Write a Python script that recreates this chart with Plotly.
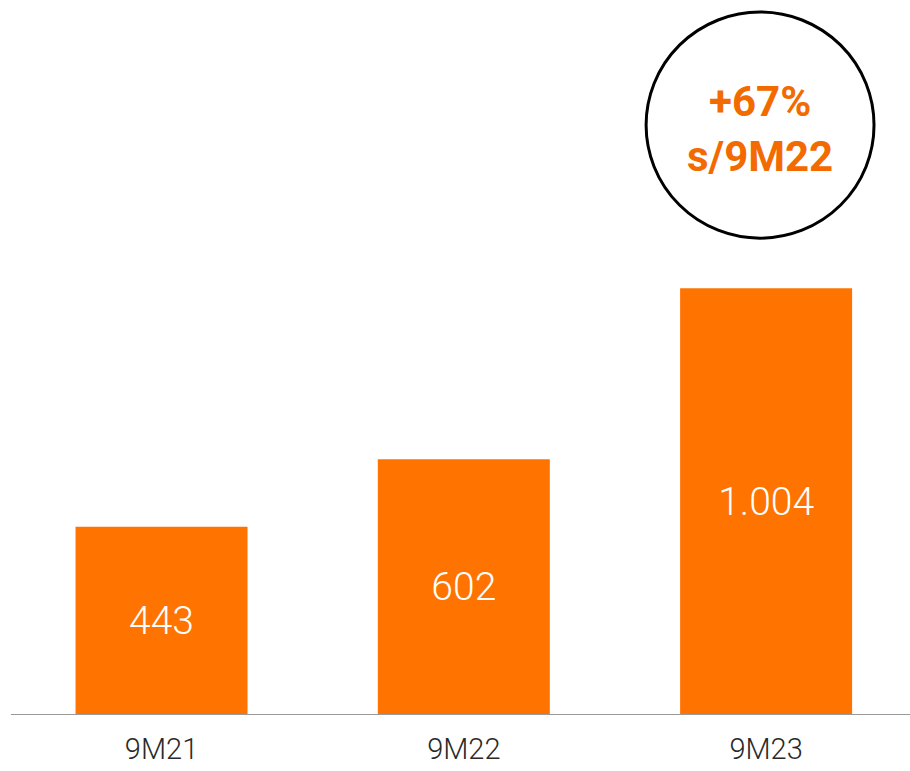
import plotly.graph_objects as go

categories = ["9M21", "9M22", "9M23"]
values = [443, 602, 1004]
value_labels = ["443", "602", "1.004"]
badge_lines = ["+67%", "s/9M22"]

BAR = "#FF7300"
TXT_ORANGE = "#F26A00"

fig = go.Figure()
fig.add_trace(go.Bar(
    x=[0, 1, 2], y=values, width=0.569,
    marker=dict(color=BAR, line=dict(width=0)),
    text=value_labels, textposition="inside", insidetextanchor="middle",
    textfont=dict(family="Roboto", size=39, color="white", weight=300),
    textangle=0, hoverinfo="skip",
))

fig.add_annotation(x=1.98, y=1380, xref="x", yref="y",
                   text="<b>" + "<br>".join(badge_lines) + "</b>",
                   showarrow=False, align="center",
                   font=dict(family="Roboto", size=42, color=TXT_ORANGE, weight=900))

fig.update_layout(
    width=910, height=771,
    margin=dict(l=11, r=0, t=0, b=56),
    paper_bgcolor="white", plot_bgcolor="white",
    showlegend=False,
    xaxis=dict(range=[-0.498, 2.476], tickvals=[0, 1, 2], ticktext=categories,
               showgrid=False, zeroline=False, showline=False,
               tickfont=dict(family="Roboto", size=29, color="#2a2a2a", weight=300),
               ticks="", ticklabelstandoff=14, fixedrange=True),
    yaxis=dict(range=[0, 1682.35], visible=False, showgrid=False, zeroline=False,
               fixedrange=True),
)
fig.add_shape(type="line", xref="paper", yref="y", x0=0, x1=1, y0=0, y1=0,
              line=dict(color="#999999", width=2), layer="above")
fig.add_shape(type="circle", xref="x", yref="y",
              x0=1.603, x1=2.357, y0=1122, y1=1654,
              line=dict(color="black", width=3))

fig.write_html("out.html", config={"displayModeBar": False},
               post_script="document.body.style.margin='0';document.body.style.overflow='hidden';")
